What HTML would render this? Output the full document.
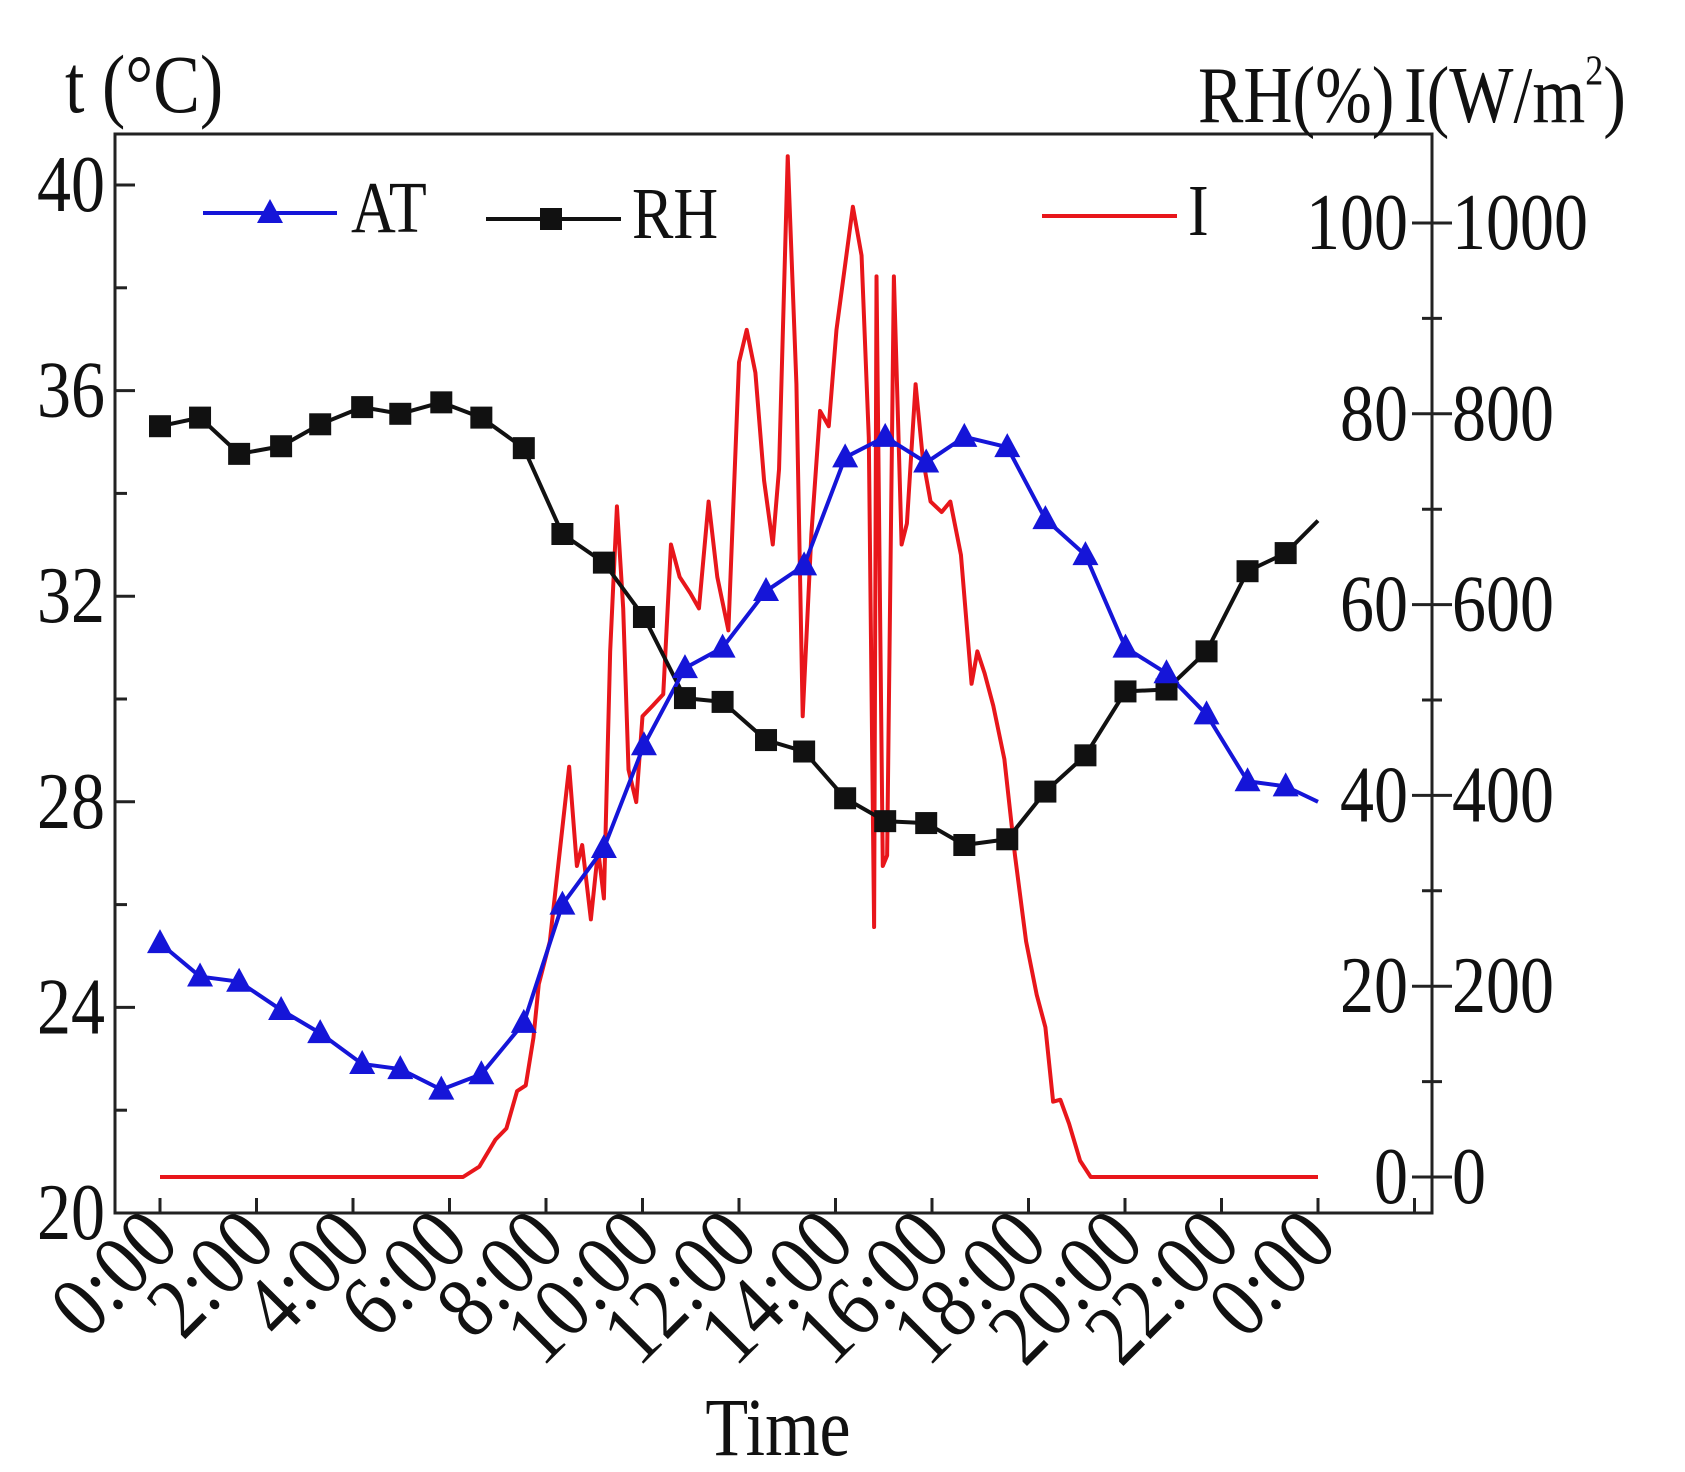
<!DOCTYPE html>
<html><head><meta charset="utf-8"><style>
html,body{margin:0;padding:0;background:#fff;}
svg{display:block;font-family:"Liberation Serif",serif;}
</style></head><body>
<svg id="chart" width="1685" height="1472" viewBox="0 0 1685 1472" xmlns="http://www.w3.org/2000/svg"></svg>
<script>
// ---- data ----
const hours = [0,0.83,1.64,2.51,3.32,4.19,4.98,5.83,6.66,7.54,8.34,9.20,10.03,10.88,11.66,12.56,13.35,14.20,15.03,15.88,16.67,17.56,18.35,19.18,20.01,20.86,21.69,22.54,23.33,24];
const atValues = [25.25,24.6,24.5,23.95,23.5,22.9,22.8,22.4,22.7,23.7,26.0,27.1,29.1,30.6,31.0,32.1,32.6,34.7,35.1,34.6,35.1,34.9,33.5,32.8,31.0,30.5,29.7,28.4,28.3,28.0];
const rhValues = [78.7,79.6,75.8,76.6,78.9,80.7,80.0,81.2,79.6,76.4,67.4,64.4,58.7,50.2,49.8,45.8,44.6,39.7,37.3,37.1,34.8,35.4,40.4,44.2,50.9,51.1,55.1,63.5,65.4,68.8];
const iHours = [0,6.28,6.62,6.95,7.18,7.40,7.58,7.74,7.85,8.08,8.30,8.48,8.64,8.75,8.93,9.08,9.20,9.33,9.47,9.60,9.71,9.87,10.00,10.21,10.43,10.59,10.77,10.99,11.17,11.37,11.55,11.78,12.00,12.16,12.34,12.52,12.70,12.83,13.01,13.19,13.32,13.50,13.68,13.86,14.02,14.36,14.54,14.69,14.80,14.85,14.98,15.07,15.21,15.37,15.48,15.66,15.81,15.97,16.20,16.38,16.60,16.82,16.94,17.09,17.27,17.50,17.72,17.95,18.17,18.35,18.51,18.66,18.84,19.07,19.29,24];
const iValues = [0,0,11,39,51,90,96,146,202,247,348,430,326,348,270,343,292,551,703,596,427,393,483,494,506,663,629,612,596,708,629,573,854,888,843,730,663,742,1070,831,483,674,803,787,888,1017,966,775,262,944,326,337,944,663,685,831,753,708,697,708,652,517,551,528,494,438,337,247,191,157,79,81,56,17,0,0];
const tTicks = [20,24,28,32,36,40];
const rhTicks = [0,20,40,60,80,100];
const iTicks = [0,200,400,600,800,1000];
const xTickLabels = ["0:00","2:00","4:00","6:00","8:00","10:00","12:00","14:00","16:00","18:00","20:00","22:00","0:00"];

// ---- axes ----
const X = h => 160 + h * 48.25;
const YT = t => 1213 - (t - 20) * 51.4;
const YRH = r => 1177 - r * 9.54;
const YI = v => 1177 - v * 0.954;

const svg = document.getElementById('chart');
const NS = 'http://www.w3.org/2000/svg';
function mk(tag, attrs, parent){ const e=document.createElementNS(NS,tag); for(const k in attrs) e.setAttribute(k,attrs[k]); (parent||svg).appendChild(e); return e; }
function txt(s,x,y,size,anchor,extra){ const t=mk('text',Object.assign({'font-size':size,'text-anchor':anchor||'start',fill:'#111',transform:`translate(${x},${y}) scale(1,1.18)`},extra||{})); t.textContent=s; return t; }

// frame
const frame = mk('rect',{x:115,y:134,width:1317,height:1079,fill:'none',stroke:'#222','stroke-width':3});



// left ticks
for(let t=20;t<=40;t+=2){ const l=mk('line',{x1:115,x2:t%4===0?135:127,y1:YT(t),y2:YT(t),stroke:'#222','stroke-width':3});
   }
tTicks.forEach(t=>{ const e=txt(String(t),105,YT(t)+26,68,'end');
   });
// right ticks
for(let v=0;v<=1000;v+=100){ const maj=v%200===0; const l=mk('line',{x1:maj?1412:1422,x2:maj?1452:1442,y1:YI(v),y2:YI(v),stroke:'#222','stroke-width':3});
   }
rhTicks.forEach(r=>{ const e=txt(String(r),1408,YRH(r)+26,68,'end');
   });
iTicks.forEach(v=>{ const e=txt(String(v),1452,YI(v)+26,68,'start');
   });
// bottom ticks
for(let h=0;h<=26;h+=2){ const l=mk('line',{x1:X(h),x2:X(h),y1:1213,y2:1198,stroke:'#222','stroke-width':3});
   }
xTickLabels.forEach((s,i)=>{ const x=X(i*2)+22, y=1246;
 const t=mk('text',{'font-size':76,'text-anchor':'end',fill:'#111',transform:`translate(${x},${y}) rotate(-45) scale(1,1.15)`}); t.textContent=s;
   });

// titles
let e=txt('t (°C)',65,112,70,'start');  
e=txt('RH(%)',1198,122,68,'start');  
e=mk('text',{'font-size':68,'text-anchor':'start',fill:'#111',transform:'translate(1404,122) scale(1,1.18)'});
e.innerHTML='I(W/m<tspan font-size="36" dy="-32">2</tspan><tspan dy="32">)</tspan>';
 
e=txt('Time',778,1455,70,'middle');  

// series
function poly(xs,ys,fx,fy,color,name){ const p=mk('polyline',{points:xs.map((h,i)=>X(h)+','+fy(ys[i])).join(' '),fill:'none',stroke:color,'stroke-width':4,'stroke-linejoin':'round'});
   return p; }
poly(iHours,iValues,X,YI,'#e8161b','i-line');
poly(hours,rhValues,X,YRH,'#111','rh-line');
poly(hours,atValues,X,YT,'#1515d8','at-line');
function tri(x,y,c){ return mk('polygon',{points:`${x},${y-14} ${x-13},${y+10} ${x+13},${y+10}`,fill:c}); }
function sq(x,y,c){ return mk('rect',{x:x-11,y:y-11,width:22,height:22,fill:c}); }
hours.forEach((h,i)=>{ if(i===hours.length-1) return;
 const s=sq(X(h),YRH(rhValues[i]),'#111');  
 const t=tri(X(h),YT(atValues[i]),'#1515d8');   });

// legend
const lg = mk('g',{});  
let l=mk('line',{x1:203,x2:337,y1:213,y2:213,stroke:'#1515d8','stroke-width':4},lg);  
let m=tri(270,213,'#1515d8'); lg.appendChild(m);  
e=txt('AT',351,232,62,'start'); lg.appendChild(e);  
l=mk('line',{x1:486,x2:621,y1:219,y2:219,stroke:'#111','stroke-width':4},lg);  
m=sq(551,219,'#111'); lg.appendChild(m);  
e=txt('RH',632,238,62,'start'); lg.appendChild(e);  
l=mk('line',{x1:1042,x2:1177,y1:216,y2:216,stroke:'#e8161b','stroke-width':4},lg);  
e=txt('I',1188,235,62,'start'); lg.appendChild(e);  
</script>
</body></html>
